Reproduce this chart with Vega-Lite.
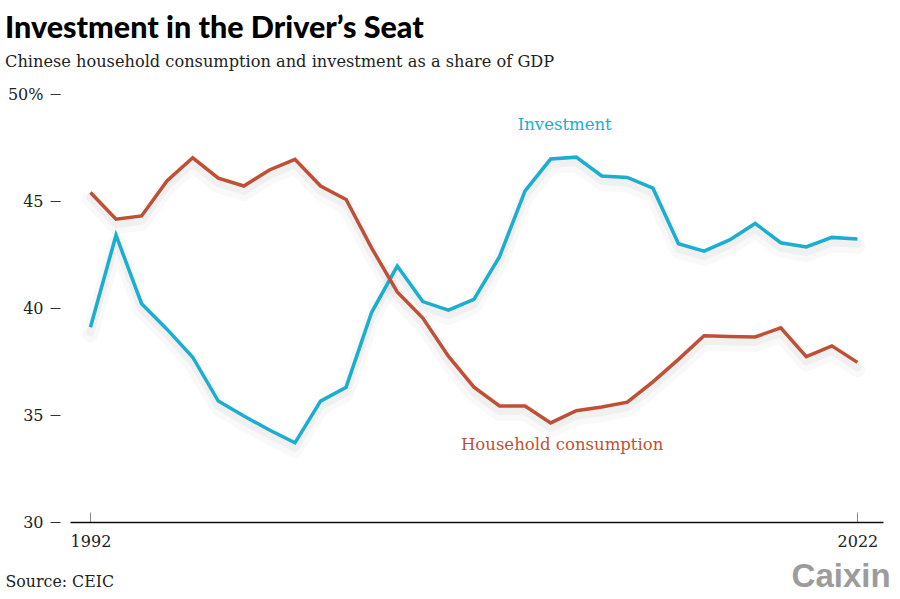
{
  "$schema": "https://vega.github.io/schema/vega-lite/v6.json",
  "autosize": "none",
  "width": 813,
  "height": 428,
  "padding": {"left": 70, "top": 94, "right": 17, "bottom": 77},
  "background": "white",
  "config": {"view": {"stroke": null}},
  "title": {
    "text": "Investment in the Driver’s Seat",
    "subtitle": "Chinese household consumption and investment as a share of GDP",
    "anchor": "start",
    "frame": "group",
    "dx": -65,
    "font": "Lato",
    "fontSize": 30.5,
    "fontWeight": 900,
    "color": "#000000",
    "subtitleFont": "DejaVu Serif",
    "subtitleFontSize": 16.2,
    "subtitleColor": "#222222",
    "subtitlePadding": 9,
    "offset": 16
  },
  "datasets": {
    "series": [
      {"year": 1992, "series": "Investment", "value": 39.1},
      {"year": 1993, "series": "Investment", "value": 43.4},
      {"year": 1994, "series": "Investment", "value": 40.2},
      {"year": 1995, "series": "Investment", "value": 39.0},
      {"year": 1996, "series": "Investment", "value": 37.7},
      {"year": 1997, "series": "Investment", "value": 35.65},
      {"year": 1998, "series": "Investment", "value": 34.95},
      {"year": 1999, "series": "Investment", "value": 34.3},
      {"year": 2000, "series": "Investment", "value": 33.7},
      {"year": 2001, "series": "Investment", "value": 35.65},
      {"year": 2002, "series": "Investment", "value": 36.3},
      {"year": 2003, "series": "Investment", "value": 39.8},
      {"year": 2004, "series": "Investment", "value": 41.96},
      {"year": 2005, "series": "Investment", "value": 40.3},
      {"year": 2006, "series": "Investment", "value": 39.9},
      {"year": 2007, "series": "Investment", "value": 40.4},
      {"year": 2008, "series": "Investment", "value": 42.4},
      {"year": 2009, "series": "Investment", "value": 45.47},
      {"year": 2010, "series": "Investment", "value": 46.96},
      {"year": 2011, "series": "Investment", "value": 47.05},
      {"year": 2012, "series": "Investment", "value": 46.17},
      {"year": 2013, "series": "Investment", "value": 46.1},
      {"year": 2014, "series": "Investment", "value": 45.6},
      {"year": 2015, "series": "Investment", "value": 43.0},
      {"year": 2016, "series": "Investment", "value": 42.66},
      {"year": 2017, "series": "Investment", "value": 43.18},
      {"year": 2018, "series": "Investment", "value": 43.95},
      {"year": 2019, "series": "Investment", "value": 43.05},
      {"year": 2020, "series": "Investment", "value": 42.85},
      {"year": 2021, "series": "Investment", "value": 43.3},
      {"year": 2022, "series": "Investment", "value": 43.22},
      {"year": 1992, "series": "Household consumption", "value": 45.4},
      {"year": 1993, "series": "Household consumption", "value": 44.15},
      {"year": 1994, "series": "Household consumption", "value": 44.3},
      {"year": 1995, "series": "Household consumption", "value": 45.95},
      {"year": 1996, "series": "Household consumption", "value": 47.02},
      {"year": 1997, "series": "Household consumption", "value": 46.07},
      {"year": 1998, "series": "Household consumption", "value": 45.7},
      {"year": 1999, "series": "Household consumption", "value": 46.45},
      {"year": 2000, "series": "Household consumption", "value": 46.95},
      {"year": 2001, "series": "Household consumption", "value": 45.7},
      {"year": 2002, "series": "Household consumption", "value": 45.07},
      {"year": 2003, "series": "Household consumption", "value": 42.8},
      {"year": 2004, "series": "Household consumption", "value": 40.75},
      {"year": 2005, "series": "Household consumption", "value": 39.53},
      {"year": 2006, "series": "Household consumption", "value": 37.75},
      {"year": 2007, "series": "Household consumption", "value": 36.3},
      {"year": 2008, "series": "Household consumption", "value": 35.42},
      {"year": 2009, "series": "Household consumption", "value": 35.42},
      {"year": 2010, "series": "Household consumption", "value": 34.63},
      {"year": 2011, "series": "Household consumption", "value": 35.2},
      {"year": 2012, "series": "Household consumption", "value": 35.37},
      {"year": 2013, "series": "Household consumption", "value": 35.6},
      {"year": 2014, "series": "Household consumption", "value": 36.55},
      {"year": 2015, "series": "Household consumption", "value": 37.6},
      {"year": 2016, "series": "Household consumption", "value": 38.7},
      {"year": 2017, "series": "Household consumption", "value": 38.67},
      {"year": 2018, "series": "Household consumption", "value": 38.65},
      {"year": 2019, "series": "Household consumption", "value": 39.07},
      {"year": 2020, "series": "Household consumption", "value": 37.73},
      {"year": 2021, "series": "Household consumption", "value": 38.23},
      {"year": 2022, "series": "Household consumption", "value": 37.46}
    ],
    "labels": [
      {"series": "Investment", "label": "Investment", "year": 2010.55, "value": 48.55},
      {"series": "Household consumption", "label": "Household consumption", "year": 2010.45, "value": 33.6}
    ],
    "brand": [
      {"label": "Caixin", "year": 2023.3, "value": 26.95}
    ]
  },
  "encoding": {
    "x": {
      "field": "year",
      "type": "quantitative",
      "scale": {"domain": [1991.2, 2023], "nice": false, "zero": false},
      "axis": {
        "values": [1992, 2022],
        "format": "d",
        "grid": false,
        "domainColor": "#111111",
        "domainWidth": 1.5,
        "tickColor": "#888888",
        "tickSize": -10,
        "tickWidth": 1,
        "labelFont": "DejaVu Serif",
        "labelFontSize": 16,
        "labelColor": "#222222",
        "labelPadding": 21,
        "title": "Source: CEIC",
        "titleFont": "DejaVu Serif",
        "titleFontSize": 15.8,
        "titleFontWeight": "normal",
        "titleColor": "#222222",
        "titleAnchor": "start",
        "titleAlign": "left",
        "titleBaseline": "alphabetic",
        "titleX": -65,
        "titleY": 64
      }
    },
    "y": {
      "field": "value",
      "type": "quantitative",
      "scale": {"domain": [30, 50], "nice": false, "zero": false},
      "axis": {
        "values": [30, 35, 40, 45, 50],
        "labelExpr": "datum.value == 50 ? '50%' : datum.label",
        "grid": false,
        "domain": false,
        "offset": 10,
        "tickSize": 10,
        "tickColor": "#333333",
        "tickWidth": 1,
        "labelFont": "DejaVu Serif",
        "labelFontSize": 16,
        "labelColor": "#222222",
        "labelPadding": 7,
        "title": null
      }
    }
  },
  "layer": [
    {
      "data": {"name": "series"},
      "mark": {"type": "line", "color": "#000000", "opacity": 0.025, "strokeWidth": 16, "yOffset": 7, "strokeJoin": "round", "strokeCap": "round"},
      "encoding": {"detail": {"field": "series"}}
    },
    {
      "data": {"name": "series"},
      "mark": {"type": "line", "color": "#000000", "opacity": 0.035, "strokeWidth": 8, "yOffset": 5, "strokeJoin": "round", "strokeCap": "round"},
      "encoding": {"detail": {"field": "series"}}
    },
    {
      "data": {"name": "series"},
      "mark": {"type": "line", "strokeWidth": 3.5, "strokeJoin": "miter"},
      "encoding": {
        "color": {
          "field": "series",
          "type": "nominal",
          "scale": {"domain": ["Investment", "Household consumption"], "range": ["#1aaed1", "#bf5036"]},
          "legend": null
        }
      }
    },
    {
      "data": {"name": "labels"},
      "mark": {"type": "text", "font": "DejaVu Serif", "fontSize": 16.5, "align": "center", "baseline": "middle"},
      "encoding": {
        "text": {"field": "label"},
        "color": {"field": "series", "type": "nominal", "legend": null}
      }
    },
    {
      "data": {"name": "brand"},
      "mark": {"type": "text", "font": "Liberation Sans", "fontSize": 33, "fontWeight": "bold", "align": "right", "baseline": "alphabetic", "color": "#9c9c9c"},
      "encoding": {"text": {"field": "label"}}
    }
  ]
}
